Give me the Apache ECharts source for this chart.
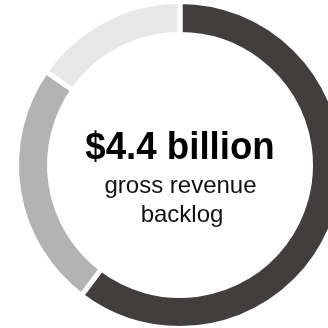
<!DOCTYPE html>
<html>
<head>
<meta charset="utf-8">
<script src="https://cdn.jsdelivr.net/npm/echarts@6/dist/echarts.min.js"></script>
<style>
  html, body { margin: 0; padding: 0; background: #ffffff; }
  #chart { width: 328px; height: 328px; }
</style>
</head>
<body>
<div id="chart"></div>
<script>
// Backlog split (share of the ring, percent)
const segmentNames = ['Segment 1', 'Segment 2', 'Segment 3'];
const segmentValues = [60.3, 24.4, 15.3];
const segmentColors = ['#423e3d', '#b3b3b3', '#e7e7e7'];

// Centre labels
const headline = '$4.4 billion';
const captionLines = ['gross revenue', 'backlog'];

const chart = echarts.init(document.getElementById('chart'), null, { renderer: 'canvas' });

const FONT = '"Liberation Sans", Arial, Helvetica, sans-serif';

chart.setOption({
  backgroundColor: '#ffffff',
  animation: false,
  series: [{
    type: 'pie',
    center: [180, 165],
    radius: [130.5, 163.5],
    startAngle: 90,
    clockwise: true,
    silent: true,
    label: { show: false },
    labelLine: { show: false },
    itemStyle: { borderColor: '#ffffff', borderWidth: 5 },
    data: segmentNames.map((name, i) => ({
      name: name,
      value: segmentValues[i],
      itemStyle: { color: segmentColors[i] }
    }))
  }],
  graphic: [
    {
      type: 'text',
      x: 180, y: 148.5,
      scaleX: 0.94,
      style: {
        text: headline,
        font: 'bold 39px ' + FONT,
        fill: '#000000',
        align: 'center',
        verticalAlign: 'middle'
      }
    },
    {
      type: 'text',
      x: 180.5, y: 186.7,
      style: {
        text: captionLines[0],
        font: '24px ' + FONT,
        fill: '#111111',
        align: 'center',
        verticalAlign: 'middle'
      }
    },
    {
      type: 'text',
      x: 182, y: 215.5,
      style: {
        text: captionLines[1],
        font: '24px ' + FONT,
        fill: '#111111',
        align: 'center',
        verticalAlign: 'middle'
      }
    }
  ]
});
</script>
</body>
</html>
